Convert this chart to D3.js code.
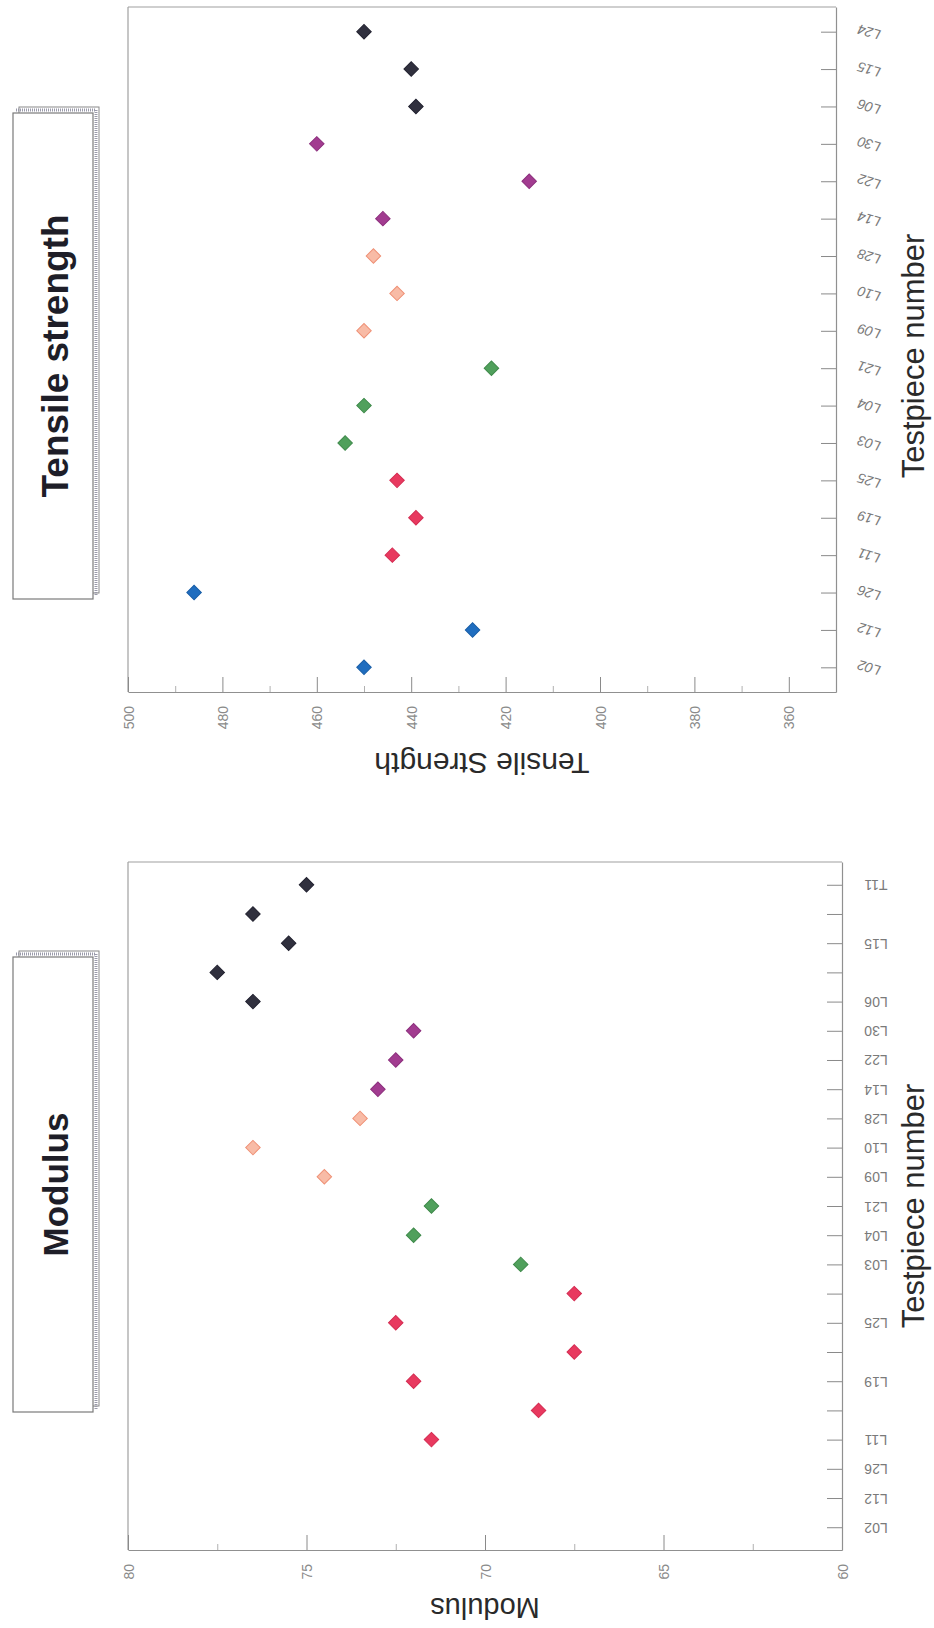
<!DOCTYPE html>
<html><head><meta charset="utf-8">
<script src="https://cdn.jsdelivr.net/npm/d3@7"></script>
<style>
body{margin:0;background:#fff;}
svg{display:block;font-family:"Liberation Sans",Arial,sans-serif;}
</style></head>
<body><svg id="chart" width="934" height="1628"></svg>
<script>
// ---------- DATA ----------
// Tensile strength panel
const tsCategories = ["L02","L12","L26","L11","L19","L25","L03","L04","L21","L09","L10","L28","L14","L22","L30","L06","L15","L24"];
const tsValues     = [450, 427, 486, 444, 439, 443, 454, 450, 423, 450, 443, 448, 446, 415, 460, 439, 440, 450];
const tsGroups     = ["A","A","A","B","B","B","C","C","C","D","D","D","E","E","E","F","F","F"];
const tsMajorTicks = [500, 480, 460, 440, 420, 400, 380, 360];
const tsMinorTicks = [490, 470, 450, 430, 410, 390, 370];
const tsDomain     = [350, 500];

// Modulus panel (blank labels are unlabeled categories)
const modCategories = ["L02","L12","L26","L11","","L19","","L25","","L03","L04","L21","L09","L10","L28","L14","L22","L30","L06","","L15","","T11"];
const modValues     = [null, null, null, 71.5, 68.5, 72, 67.5, 72.5, 67.5, 69, 72, 71.5, 74.5, 76.5, 73.5, 73, 72.5, 72, 76.5, 77.5, 75.5, 76.5, 75];
const modGroups     = ["A","A","A","B","B","B","B","B","B","C","C","C","D","D","D","E","E","E","F","F","F","F","F"];
const modMajorTicks = [80, 75, 70, 65, 60];
const modMinorTicks = [77.5, 72.5, 67.5, 62.5];
const modDomain     = [60, 80];

// ---------- STYLE ----------
const fillColor   = {A:"#1f6dbf", B:"#e8395f", C:"#50a05c", D:"#f8bba6", E:"#a23c90", F:"#30303e"};
const strokeColor = {A:"#1a5fa8", B:"#d42c52", C:"#3f8a4b", D:"#ef9176", E:"#8c2f7d", F:"#222230"};

const svg = d3.select("#chart");
svg.append("rect").attr("width",934).attr("height",1628).attr("fill","#fff");

function panel(cfg){
  const g = svg.append("g");
  const n = cfg.cats.length;
  const x = d3.scaleLinear().domain(cfg.domain).range([cfg.x1, cfg.x0]);
  const y = d3.scalePoint().domain(d3.range(n)).range([cfg.y1, cfg.y0]).padding(cfg.pad);

  // frame (left and top)
  g.append("line").attr("x1",cfg.x0).attr("x2",cfg.x0).attr("y1",cfg.y0).attr("y2",cfg.y1)
    .attr("stroke","#a0a0a0").attr("stroke-width",1.2);
  g.append("line").attr("x1",cfg.x0).attr("x2",cfg.x1).attr("y1",cfg.y0).attr("y2",cfg.y0)
    .attr("stroke","#a0a0a0").attr("stroke-width",1.2);

  // value axis (bottom), ticks pointing inward
  const vAx = g.append("g").attr("transform",`translate(0,${cfg.y1})`)
    .call(d3.axisBottom(x).tickValues(cfg.major).tickSizeInner(-15).tickSizeOuter(0));
  vAx.select(".domain").attr("stroke","#909090").attr("stroke-width",1.2);
  vAx.selectAll(".tick line").attr("stroke","#8a8a8a");
  vAx.selectAll(".tick text")
    .attr("x",0).attr("y",0).attr("dy",null)
    .attr("text-anchor","end").attr("dominant-baseline","central")
    .attr("transform","translate(0,14) rotate(-90)")
    .attr("fill","#8a8a8a").attr("font-size",14).attr("font-family","Liberation Sans, Arial, sans-serif");
  const mAx = g.append("g").attr("transform",`translate(0,${cfg.y1})`)
    .call(d3.axisBottom(x).tickValues(cfg.minor).tickSizeInner(-6).tickSizeOuter(0).tickFormat(""));
  mAx.select(".domain").remove();
  mAx.selectAll(".tick line").attr("stroke","#b0b0b0");

  // category axis (right), ticks pointing inward, labels upside down
  const cAx = g.append("g").attr("transform",`translate(${cfg.x1},0)`)
    .call(d3.axisRight(y).tickSizeInner(-15).tickSizeOuter(0).tickFormat(i => cfg.cats[i]));
  cAx.select(".domain").attr("stroke","#909090").attr("stroke-width",1.2);
  cAx.selectAll(".tick line").attr("stroke","#8a8a8a");
  cAx.selectAll(".tick text")
    .attr("x",0).attr("dy",null)
    .attr("text-anchor","middle").attr("dominant-baseline","central")
    .attr("transform",`translate(${cfg.labelOff},0) rotate(${cfg.labelRot})`)
    .attr("font-style",cfg.italic ? "italic" : "normal")
    .attr("fill","#7a7a7a").attr("font-size",cfg.labelSize).attr("font-family","Liberation Sans, Arial, sans-serif");

  // axis titles
  g.append("text").text(cfg.vTitle)
    .attr("transform",`translate(${(cfg.x0+cfg.x1)/2},${cfg.y1+cfg.vTitleOff}) rotate(180)`)
    .attr("text-anchor","middle").attr("dominant-baseline","central")
    .attr("font-size",cfg.vTitleSize).attr("fill","#2a2a2a");
  g.append("text").text("Testpiece number")
    .attr("transform",`translate(913,${cfg.cTitleY}) rotate(-90)`)
    .attr("text-anchor","middle").attr("dominant-baseline","central")
    .attr("font-size",31).attr("fill","#2a2a2a");

  // points
  const sym = d3.symbol().type(d3.symbolSquare).size(105);
  g.append("g").selectAll("path")
    .data(d3.range(n).filter(i => cfg.vals[i] != null))
    .join("path")
    .attr("d", sym)
    .attr("transform", i => `translate(${x(cfg.vals[i])},${y(i)}) rotate(45)`)
    .attr("fill", i => fillColor[cfg.groups[i]])
    .attr("stroke", i => strokeColor[cfg.groups[i]])
    .attr("stroke-width",1);

  // title box with shadow
  const b = cfg.box;
  const bg = svg.append("g");
  bg.append("rect").attr("x",b.x+6).attr("y",b.y-6).attr("width",b.w).attr("height",b.h)
    .attr("fill","#fff").attr("stroke","#8a8a8a").attr("stroke-width",1);
  bg.append("path")
    .attr("d",`M${b.x+3},${b.y-3} H${b.x+b.w+3} V${b.y+b.h-3}`)
    .attr("fill","none").attr("stroke","#9a9aaa").attr("stroke-width",3).attr("stroke-dasharray","1,1");
  bg.append("rect").attr("x",b.x).attr("y",b.y).attr("width",b.w).attr("height",b.h)
    .attr("fill","#fff").attr("stroke","#7a7a7a").attr("stroke-width",1.2);
  bg.append("text").text(cfg.title)
    .attr("transform",`translate(${b.x+b.w/2+2},${b.y+b.h/2}) rotate(-90)`)
    .attr("text-anchor","middle").attr("dominant-baseline","central")
    .attr("font-size",cfg.titleSize).attr("font-weight","bold").attr("fill","#1e1e28");
}

panel({
  cats: tsCategories, vals: tsValues, groups: tsGroups,
  domain: tsDomain, major: tsMajorTicks, minor: tsMinorTicks,
  x0:128, x1:836, y0:7, y1:692, pad:0.66,
  labelOff:33, labelRot:196, italic:true, labelSize:14,
  vTitle:"Tensile Strength", vTitleOff:71, vTitleSize:30, cTitleY:356,
  title:"Tensile strength", titleSize:37, box:{x:13, y:113, w:80, h:486}
});
panel({
  cats: modCategories, vals: modValues, groups: modGroups,
  domain: modDomain, major: modMajorTicks, minor: modMinorTicks,
  x0:128, x1:842, y0:862, y1:1550, pad:0.78,
  labelOff:34, labelRot:180, italic:false, labelSize:14,
  vTitle:"Modulus", vTitleOff:58, vTitleSize:29, cTitleY:1206,
  title:"Modulus", titleSize:35, box:{x:13, y:957, w:80, h:455}
});
</script></body></html>
